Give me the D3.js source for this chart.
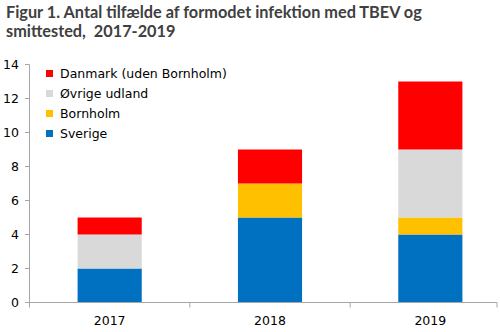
<!DOCTYPE html>
<html>
   <head>
      <meta charset="utf-8">
      <script src="https://d3js.org/d3.v7.min.js"></script>
   </head>
   <style>
      body { margin: 0; background: #fff; }
      text { font-family: 'DejaVu Sans', sans-serif; white-space: pre; }
      .title { font-family: Lato, 'DejaVu Sans', sans-serif; }
   </style>
   <body>
      <script>
         let [width, height] = [500, 332];

         // Data
         let years = ['2017', '2018', '2019'];
         let series = ['Sverige', 'Bornholm', 'Øvrige udland', 'Danmark (uden Bornholm)'];
         let sverige = [2, 5, 4];
         let bornholm = [0, 2, 1];
         let oevrige = [2, 0, 4];
         let danmark = [1, 2, 4];
         let yTicks = [0, 2, 4, 6, 8, 10, 12, 14];
         let colors = ['#0070c0', '#ffc000', '#d9d9d9', '#ff0000'];

         let rows = years.map((y, i) => ({
            year: y,
            'Sverige': sverige[i],
            'Bornholm': bornholm[i],
            'Øvrige udland': oevrige[i],
            'Danmark (uden Bornholm)': danmark[i]
         }));
         let stacked = d3.stack().keys(series)(rows);

         let svg = d3.select('body').append('svg')
            .attr('width', width).attr('height', height);

         // Title
         let title = svg.append('text')
            .attr('class', 'title')
            .attr('x', 6).attr('y', 18)
            .style('font-size', '16.3px')
            .style('font-weight', 'bold')
            .attr('fill', '#404040');
         title.append('tspan').attr('x', 6).attr('dy', 0)
            .text('Figur 1. Antal tilfælde af formodet infektion med TBEV og');
         title.append('tspan').attr('x', 6).attr('dy', 19)
            .text('smittested,  2017-2019');

         let x = d3.scaleBand().domain(years).range([29.5, 510.5]).paddingInner(0.6).paddingOuter(0.3);
         let y = d3.scaleLinear().domain([0, 14]).range([302.5, 64.5]);
         let axisEnd = 497;

         // Bars
         svg.append('g').selectAll('g')
            .data(stacked)
            .enter().append('g')
               .attr('fill', (d, i) => colors[i])
            .selectAll('rect')
            .data(d => d)
            .enter().append('rect')
               .attr('x', d => x(d.data.year))
               .attr('width', x.bandwidth())
               .attr('y', d => y(d[1]))
               .attr('height', d => y(d[0]) - y(d[1]));

         // Y axis
         let yAxis = svg.append('g');
         yAxis.append('line')
            .attr('x1', 29.5).attr('x2', 29.5)
            .attr('y1', y(14)).attr('y2', y(0))
            .attr('stroke', '#a6a6a6');
         yAxis.selectAll('.yt').data(yTicks).enter().append('line')
            .attr('x1', 25).attr('x2', 29.5)
            .attr('y1', d => y(d)).attr('y2', d => y(d))
            .attr('stroke', '#a6a6a6');
         yAxis.selectAll('.yl').data(yTicks).enter().append('text')
            .attr('x', 19).attr('y', d => y(d))
            .attr('dy', '0.35em')
            .attr('text-anchor', 'end')
            .style('font-size', '12.5px')
            .attr('fill', '#000')
            .text(d => d);

         // X axis, tick marks between categories
         let xAxis = svg.append('g');
         xAxis.append('line')
            .attr('x1', 25).attr('x2', axisEnd)
            .attr('y1', y(0)).attr('y2', y(0))
            .attr('stroke', '#a6a6a6');
         let bounds = years.map((d, i) => x.range()[0] + i * x.step()).concat([axisEnd]);
         xAxis.selectAll('.xt').data(bounds).enter().append('line')
            .attr('x1', d => d).attr('x2', d => d)
            .attr('y1', y(0)).attr('y2', y(0) + 5)
            .attr('stroke', '#a6a6a6');
         xAxis.selectAll('.xl').data(years).enter().append('text')
            .attr('x', d => x(d) + x.bandwidth() / 2)
            .attr('y', 325)
            .attr('text-anchor', 'middle')
            .style('font-size', '12.5px')
            .attr('fill', '#000')
            .text(d => d);

         // Legend, top entry first
         let legendOrder = series.slice().reverse();
         let legend = svg.append('g').selectAll('g')
            .data(legendOrder)
            .enter().append('g')
               .attr('transform', (d, i) => `translate(46, ${73.5 + i * 20})`);
         legend.append('rect')
            .attr('x', 0).attr('y', -3.5)
            .attr('width', 7).attr('height', 7)
            .attr('fill', d => colors[series.indexOf(d)]);
         legend.append('text')
            .attr('x', 14).attr('y', 0)
            .attr('dy', '0.35em')
            .style('font-size', '12.5px')
            .attr('fill', '#000')
            .text(d => d);
      </script>
   </body>
</html>
